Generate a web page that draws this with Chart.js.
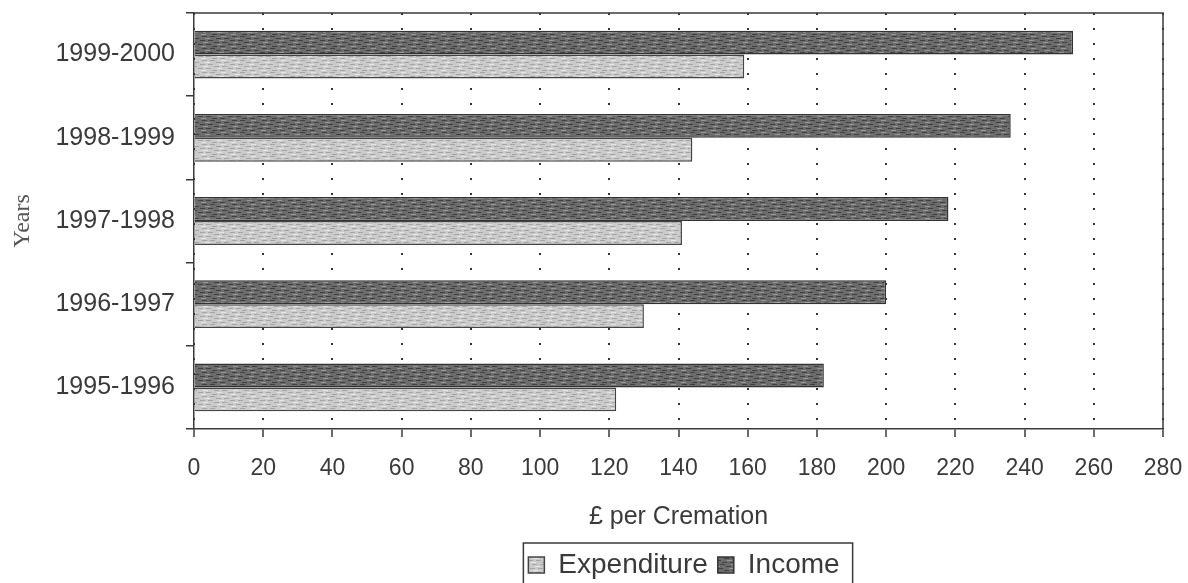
<!DOCTYPE html>
<html>
<head>
<meta charset="utf-8">
<script src="https://cdn.jsdelivr.net/npm/chart.js@4/dist/chart.umd.min.js"></script>
<style>
  html, body { margin: 0; padding: 0; background: #fff; }
  #wrap { width: 1188px; height: 583px; }
</style>
</head>
<body>
<div id="wrap"><canvas id="myChart" width="1188" height="583"></canvas></div>
<script>
// categories listed top to bottom as they appear on the chart
var years = ['1999-2000', '1998-1999', '1997-1998', '1996-1997', '1995-1996'];
var income = [254, 236, 218, 200, 182];
var expenditure = [159, 144, 141, 130, 122];
var xTicks = [0, 20, 40, 60, 80, 100, 120, 140, 160, 180, 200, 220, 240, 260, 280];

// scanned-looking fill, just a fixed streak texture
function makePattern(base, streak, light) {
    var c = document.createElement('canvas');
    c.width = 30; c.height = 12;
    var g = c.getContext('2d');
    g.fillStyle = base;
    g.fillRect(0, 0, 30, 12);
    for (var y = 0; y < 12; y += 2) {
        for (var k = 0; k < 3; k++) {
            var x = (y * 7 + k * 11) % 30;
            g.fillStyle = (k % 2 === 0) ? streak : light;
            g.fillRect(x, y, 5, 1);
            if (x + 5 > 30) g.fillRect(x - 30, y, 5, 1);
        }
    }
    return g.createPattern(c, 'repeat');
}

var frame = {
    id: 'frame',
    afterLayout: function (chart) {
        // legend sits under the plot, not under the whole canvas
        var lg = chart.legend;
        var dx = 684 - (lg.left + lg.right) / 2;
        var dy = 9;
        lg.left += dx; lg.right += dx;
        lg.top += dy; lg.bottom += dy;
        lg.legendHitBoxes.forEach(function (h) { h.left += dx; h.top += dy; });
    },
    afterDraw: function (chart) {
        var ctx = chart.ctx, a = chart.chartArea;
        ctx.save();
        ctx.strokeStyle = '#3a3a3a';
        ctx.lineWidth = 1.5;
        ctx.beginPath();
        ctx.moveTo(a.left, a.top);
        ctx.lineTo(a.right, a.top);
        ctx.lineTo(a.right, a.bottom);
        ctx.stroke();
        // box round the legend
        var boxes = chart.legend.legendHitBoxes;
        if (boxes && boxes.length) {
            var last = boxes[boxes.length - 1];
            var l = boxes[0].left, r = last.left + last.width;
            var cy = boxes[0].top + boxes[0].height / 2;
            ctx.strokeRect(l - 5, cy - 31, r - l + 18, 70);
        }
        ctx.restore();
    }
};

paintTheChart();

function paintTheChart() {
    var ctx = document.getElementById('myChart').getContext('2d');
    var darkFill = makePattern('#6c6c6c', '#404040', '#969696');
    var lightFill = makePattern('#cbcbcb', '#a5a5a5', '#e6e6e6');
    var chart = new Chart(ctx, {
        type: 'bar',
        data: {
            labels: years,
            datasets: [{
                label: 'Income',
                data: income,
                backgroundColor: darkFill,
                borderColor: '#333',
                borderWidth: 1.5,
                barPercentage: 1,
                categoryPercentage: 0.575
            }, {
                label: 'Expenditure',
                data: expenditure,
                backgroundColor: lightFill,
                borderColor: '#444',
                borderWidth: 1.5,
                barPercentage: 1,
                categoryPercentage: 0.575
            }]
        },
        options: {
            indexAxis: 'y',
            responsive: false,
            animation: false,
            events: [],
            layout: { padding: { left: 8, right: 25, top: 13, bottom: 3 } },
            plugins: {
                tooltip: { enabled: false },
                legend: {
                    position: 'bottom',
                    reverse: true,
                    labels: {
                        font: { family: 'Liberation Sans, Arial, sans-serif', size: 28 },
                        color: '#3a3a3a',
                        boxWidth: 16,
                        boxHeight: 16,
                        padding: 10
                    }
                }
            },
            scales: {
                x: {
                    min: 0,
                    max: 280,
                    afterBuildTicks: function (scale) {
                        scale.ticks = xTicks.map(function (v) { return { value: v }; });
                    },
                    afterFit: function (scale) {
                        scale.height = 103;
                        scale.paddingLeft = 0;
                        scale.paddingRight = 0;
                    },
                    grid: { color: '#333', lineWidth: 2, tickLength: 8, tickColor: '#3a3a3a', tickWidth: 1.5 },
                    border: { display: true, color: '#3a3a3a', width: 1.5, dash: [2, 13] },
                    ticks: {
                        font: { family: 'Liberation Sans, Arial, sans-serif', size: 23 },
                        color: '#3a3a3a',
                        padding: 18,
                        maxRotation: 0
                    },
                    title: {
                        display: true,
                        text: '£ per Cremation',
                        font: { family: 'Liberation Sans, Arial, sans-serif', size: 25 },
                        color: '#3a3a3a',
                        padding: { top: 22, bottom: 0 }
                    }
                },
                y: {
                    afterFit: function (scale) {
                        scale.width = 186;
                        scale.paddingTop = 0;
                        scale.paddingBottom = 0;
                    },
                    grid: { drawOnChartArea: false, tickLength: 8, color: '#3a3a3a', lineWidth: 1.5 },
                    border: { display: true, color: '#3a3a3a', width: 1.5 },
                    ticks: {
                        font: { family: 'Liberation Sans, Arial, sans-serif', size: 25 },
                        color: '#3a3a3a',
                        padding: 11
                    },
                    title: {
                        display: true,
                        text: 'Years',
                        font: { family: 'Liberation Serif, Times New Roman, serif', size: 24 },
                        color: '#555',
                        padding: { top: 0, bottom: 10 }
                    }
                }
            }
        },
        plugins: [frame]
    });
}
</script>
</body>
</html>
